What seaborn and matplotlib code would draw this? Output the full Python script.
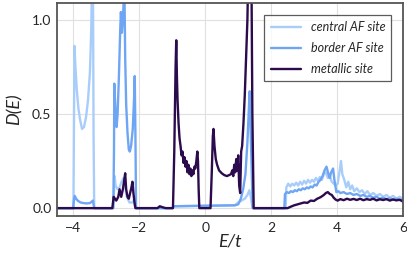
import matplotlib
matplotlib.use("Agg")
import matplotlib.pyplot as plt
import pandas as pd
import seaborn as sns

# local density of states
central_e = [-4.5, -4.0, -3.97, -3.94, -3.9, -3.85, -3.8, -3.74, -3.68, -3.62, -3.56, -3.5, -3.46,
             -3.43, -3.41, -3.39, -3.37, -2.8, -2.78, -2.75, -2.72, -2.66, -2.6, -2.54, -2.48, -2.44,
             -2.38, -2.3, -2.2, -2.15, -2.12, -2.09, -1.0, -0.95, 0.9, 1.0, 1.1, 1.2, 1.28, 1.34, 1.38,
             1.44, 2.44, 2.46, 2.52, 2.58, 2.64, 2.7, 2.76, 2.82, 2.88, 2.94, 3.0, 3.06, 3.12, 3.18,
             3.24, 3.3, 3.36, 3.42, 3.48, 3.54, 3.6, 3.66, 3.72, 3.78, 3.84, 3.9, 3.96, 4.02, 4.08,
             4.12, 4.16, 4.22, 4.28, 4.34, 4.4, 4.46, 4.52, 4.6, 4.68, 4.76, 4.84, 4.92, 5.0, 5.1,
             5.2, 5.3, 5.4, 5.5, 5.6, 5.7, 5.8, 5.9, 6.0]
central_d = [0.0, 0.0, 0.86, 0.75, 0.63, 0.53, 0.47, 0.42, 0.43, 0.48, 0.57, 0.72, 0.95,
             1.3, 1.3, 0.4, 0.0, 0.0, 0.05, 0.17, 0.12, 0.10, 0.11, 0.14, 0.16, 0.12,
             0.06, 0.03, 0.03, 0.05, 0.02, 0.0, 0.0, 0.01, 0.015, 0.03, 0.04, 0.05, 0.07, 0.095, 0.06,
             0.0, 0.0, 0.11, 0.13, 0.115, 0.13, 0.12, 0.135, 0.12, 0.14, 0.125, 0.145, 0.13, 0.15, 0.135,
             0.15, 0.14, 0.16, 0.145, 0.165, 0.15, 0.18, 0.19, 0.16, 0.17, 0.14, 0.13, 0.12, 0.13, 0.2,
             0.25, 0.18, 0.15, 0.11, 0.14, 0.1, 0.12, 0.09, 0.105, 0.085, 0.095, 0.075, 0.09, 0.07, 0.08,
             0.065, 0.075, 0.06, 0.07, 0.055, 0.065, 0.05, 0.06, 0.05]

border_e = [-4.5, -4.01, -3.98, -3.96, -3.92, -3.86, -3.78, -3.7, -3.6, -3.5, -3.44, -3.41, -3.38,
            -3.36, -2.79, -2.77, -2.76, -2.72, -2.69, -2.66, -2.62, -2.58, -2.56, -2.53, -2.5, -2.47,
            -2.45, -2.43, -2.4, -2.36, -2.32, -2.29, -2.25, -2.2, -2.16, -2.14, -2.12, -2.1, -1.0,
            -0.95, 0.9, 1.0, 1.08, 1.15, 1.22, 1.28, 1.33, 1.35, 1.38, 1.44, 2.4, 2.42, 2.48, 2.54,
            2.6, 2.66, 2.72, 2.78, 2.84, 2.9, 2.96, 3.02, 3.08, 3.14, 3.2, 3.26, 3.32, 3.38, 3.44,
            3.5, 3.56, 3.62, 3.68, 3.74, 3.78, 3.82, 3.88, 3.92, 3.98, 4.04, 4.1, 4.2, 4.3, 4.4, 4.5,
            4.6, 4.7, 4.8, 4.9, 5.0, 5.1, 5.2, 5.3, 5.4, 5.5, 5.6, 5.7, 5.8, 5.9, 6.0]
border_d = [0.0, 0.0, 0.05, 0.065, 0.05, 0.038, 0.03, 0.027, 0.025, 0.027, 0.035, 0.04, 0.01,
            0.0, 0.0, 0.3, 0.66, 0.5, 0.43, 0.5, 0.7, 0.95, 1.04, 0.93, 1.0, 1.12,
            1.12, 0.8, 0.55, 0.4, 0.31, 0.3, 0.33, 0.42, 0.58, 0.70, 0.4, 0.0, 0.0,
            0.01, 0.015, 0.02, 0.05, 0.1, 0.18, 0.35, 0.55, 0.62, 0.4, 0.0, 0.0, 0.075, 0.085, 0.08,
            0.09, 0.085, 0.095, 0.09, 0.1, 0.095, 0.105, 0.1, 0.11, 0.105, 0.115, 0.11, 0.125, 0.12, 0.14,
            0.15, 0.17, 0.2, 0.22, 0.18, 0.16, 0.19, 0.21, 0.15, 0.085, 0.09, 0.08, 0.085, 0.075, 0.08, 0.07,
            0.075, 0.065, 0.07, 0.06, 0.065, 0.055, 0.06, 0.05, 0.055, 0.048, 0.052, 0.045, 0.05, 0.042, 0.045]

metal_e = [-4.5, -2.82, -2.78, -2.74, -2.7, -2.64, -2.6, -2.55, -2.5, -2.45, -2.43, -2.4, -2.36,
           -2.32, -2.28, -2.24, -2.21, -2.18, -2.14, -2.12, -1.45, -1.38, -1.3, -1.2, -0.98, -0.94,
           -0.9, -0.88, -0.86, -0.84, -0.81, -0.78, -0.75, -0.72, -0.69, -0.66, -0.63, -0.6, -0.57,
           -0.54, -0.51, -0.48, -0.45, -0.42, -0.39, -0.36, -0.33, -0.3, -0.27, -0.24, -0.22, -0.2,
           -0.18, 0.16, 0.2, 0.23, 0.25, 0.28, 0.32, 0.36, 0.42, 0.5, 0.58, 0.66, 0.72, 0.78, 0.82,
           0.85, 0.88, 0.91, 0.94, 0.97, 1.0, 1.03, 1.06, 1.09, 1.12, 1.16, 1.2, 1.24, 1.28, 1.31,
           1.4, 1.43, 1.47, 2.5, 2.6, 2.7, 2.8, 2.9, 3.0, 3.1, 3.2, 3.3, 3.4, 3.5, 3.6, 3.66, 3.72,
           3.78, 3.84, 3.9, 3.96, 4.02, 4.1, 4.2, 4.3, 4.4, 4.5, 4.6, 4.7, 4.8, 4.9, 5.0, 5.1, 5.2,
           5.3, 5.4, 5.5, 5.6, 5.7, 5.8, 5.9, 6.0]
metal_d = [0.0, 0.0, 0.06, 0.05, 0.04, 0.06, 0.1, 0.06, 0.1, 0.16, 0.185, 0.1, 0.06,
           0.05, 0.08, 0.11, 0.14, 0.08, 0.02, 0.0, 0.0, 0.01, 0.005, 0.0, 0.0, 0.3,
           0.75, 0.89, 0.7, 0.57, 0.45, 0.37, 0.33, 0.28, 0.3, 0.24, 0.27, 0.22, 0.25,
           0.19, 0.23, 0.18, 0.21, 0.17, 0.2, 0.18, 0.22, 0.21, 0.25, 0.3, 0.25, 0.1,
           0.0, 0.0, 0.2, 0.38, 0.42, 0.33, 0.26, 0.23, 0.2, 0.185, 0.175, 0.17, 0.175, 0.18, 0.2,
           0.17, 0.23, 0.19, 0.26, 0.2, 0.28, 0.12, 0.08, 0.3, 0.33, 0.45, 0.6, 0.8, 1.0, 1.3,
           1.3, 0.5, 0.0, 0.0, 0.008, 0.015, 0.02, 0.025, 0.03, 0.028, 0.04, 0.038, 0.05, 0.058, 0.07, 0.08, 0.085,
           0.075, 0.07, 0.055, 0.045, 0.04, 0.048, 0.042, 0.05, 0.044, 0.049, 0.043, 0.05, 0.042, 0.048, 0.044, 0.05, 0.041,
           0.047, 0.043, 0.048, 0.04, 0.046, 0.041, 0.045, 0.035]

sites = ["central AF site", "border AF site", "metallic site"]
colors = ["#a9cdfb", "#6ea6f4", "#2b0b4d"]

df = pd.concat([
    pd.DataFrame({"E": central_e, "D": central_d, "site": sites[0]}),
    pd.DataFrame({"E": border_e, "D": border_d, "site": sites[1]}),
    pd.DataFrame({"E": metal_e, "D": metal_d, "site": sites[2]}),
])

sns.set_style("whitegrid", {"grid.color": "#e0e0e0", "axes.edgecolor": "#555555"})
plt.rcParams["font.family"] = ["Lato", "DejaVu Sans"]

fig = plt.figure(figsize=(4.07, 2.56), dpi=100)
ax = fig.add_axes([0.14, 0.156, 0.85, 0.834])
sns.lineplot(data=df, x="E", y="D", hue="site", palette=dict(zip(sites, colors)),
             estimator=None, sort=False, lw=1.7, ax=ax)

ax.set_xlim(-4.5, 6)
ax.set_ylim(-0.042, 1.09)
ax.set_xticks([-4, -2, 0, 2, 4, 6])
ax.set_yticks([0.0, 0.5, 1.0])
ax.set_yticklabels(["0.0", "0.5", "1.0"])
ax.tick_params(labelsize=10, length=2, width=0.8, color="#555555", pad=2)
ax.grid(lw=0.8)
for s in ax.spines.values():
    s.set_linewidth(1.3)
ax.set_xlabel("E/t", fontsize=13, style="italic", labelpad=0)
ax.set_ylabel("D(E)", fontsize=13, style="italic", labelpad=7)

leg = ax.legend(loc="upper right", fontsize=9, frameon=True, fancybox=False,
                edgecolor="#333333", labelspacing=0.7, handlelength=2.4,
                borderpad=0.5, bbox_to_anchor=(0.985, 0.97))
leg.get_frame().set_linewidth(0.9)
for t in leg.get_texts():
    t.set_style("italic")

fig.savefig("out.png", dpi=100)
